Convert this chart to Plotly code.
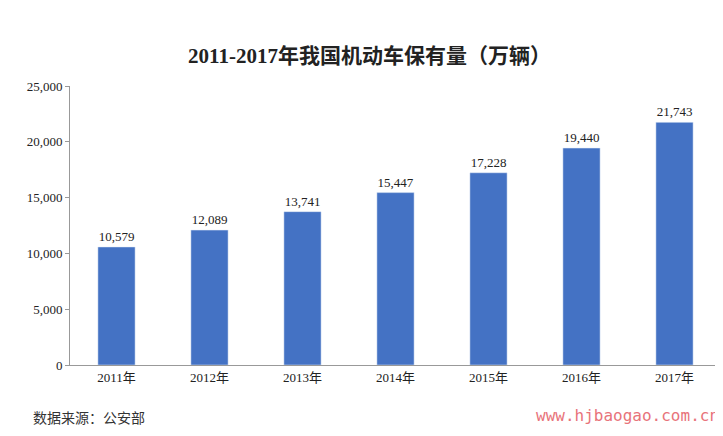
import plotly.graph_objects as go

years = ["2011年","2012年","2013年","2014年","2015年","2016年","2017年"]
values = [10579,12089,13741,15447,17228,19440,21743]
labels = ["10,579","12,089","13,741","15,447","17,228","19,440","21,743"]

font = "Liberation Serif, Noto Sans CJK SC"
fig = go.Figure(go.Bar(x=years, y=values, text=labels, textposition="outside",
                       marker_color="#4472C4", width=0.4,
                       textfont=dict(family=font, size=13, color="#222"), cliponaxis=False))
fig.update_layout(
    width=723, height=436, margin=dict(l=62, r=10, t=78, b=79),
    plot_bgcolor="white", paper_bgcolor="white", showlegend=False,
    title=dict(text="<b>2011-2017年我国机动车保有量（万辆）</b>", x=0.5, y=0.89, xanchor="center", yanchor="middle",
               font=dict(family=font, size=21, color="#222")),
    xaxis=dict(showline=True, linecolor="#999", ticks="", tickfont=dict(family=font, size=13, color="#222")),
    yaxis=dict(range=[0,25000], dtick=5000, tickformat=",", showgrid=False, showline=True, linecolor="#999",
               ticks="outside", ticklen=4, tickcolor="#999", tickfont=dict(family=font, size=13, color="#222")),
)
fig.add_annotation(text="数据来源：公安部", xref="paper", x=-0.06, yref="paper", y=-0.145,
                   xanchor="left", yanchor="top", showarrow=False,
                   font=dict(family="Noto Sans CJK SC", size=14, color="#333"))
fig.add_annotation(text="www.hjbaogao.com.cn", xref="paper", yref="paper", x=1.0, y=-0.14,
                   xanchor="right", yanchor="top", showarrow=False,
                   font=dict(family="DejaVu Sans Mono", size=16, color="#e8737a"))
fig.write_html("out.html")
